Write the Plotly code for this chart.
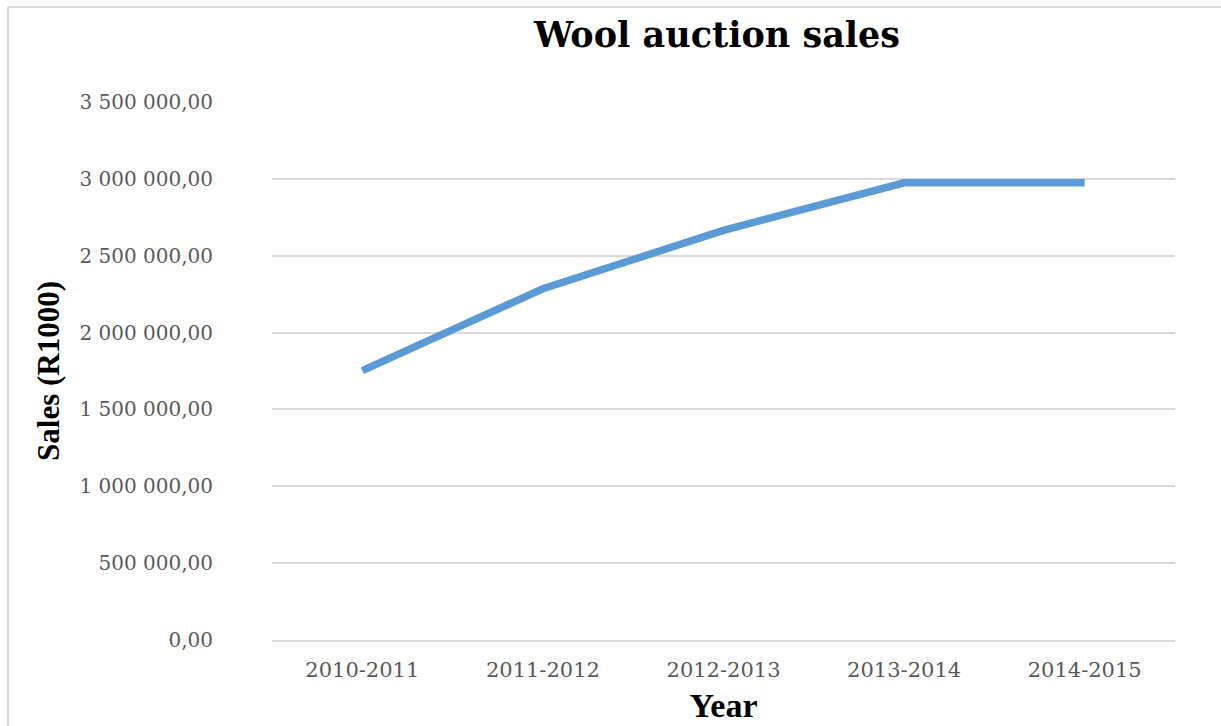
import plotly.graph_objects as go

# Wool auction sales per season (R1000)
seasons = ["2010-2011", "2011-2012", "2012-2013", "2013-2014", "2014-2015"]
sales = [1752000, 2285000, 2665000, 2974000, 2974000]

y_tick_values = [0, 500000, 1000000, 1500000, 2000000, 2500000, 3000000, 3500000]
y_tick_labels = ["0,00", "500 000,00", "1 000 000,00", "1 500 000,00",
                 "2 000 000,00", "2 500 000,00", "3 000 000,00", "3 500 000,00"]

GRID = "#d9d9d9"
TICK_COLOR = "#595959"
SERIF = "DejaVu Serif"
TITLE_SERIF = "Liberation Serif"

fig = go.Figure()
fig.add_trace(go.Scatter(
    x=seasons,
    y=sales,
    mode="lines",
    line=dict(color="#5b9bd5", width=7.5),
    hoverinfo="x+y",
    showlegend=False,
))

W, H = 1221, 726
L, R, T, B = 272, 46, 102, 86
pw = W - L - R
ph = H - T - B

fig.update_layout(
    width=W,
    height=H,
    margin=dict(l=L, r=R, t=T, b=B, autoexpand=False),
    paper_bgcolor="white",
    plot_bgcolor="white",
    title=dict(
        text="<b>Wool auction sales</b>",
        font=dict(family=SERIF, size=35, color="black"),
        x=(717 - L) / pw, xref="paper", xanchor="center",
        y=1 - 35 / H, yref="container", yanchor="middle",
    ),
    xaxis=dict(
        type="category",
        range=[-0.5, len(seasons) - 0.5],
        automargin=False,
        showgrid=False,
        showline=True,
        linecolor=GRID,
        linewidth=2,
        ticks="",
        tickfont=dict(family=SERIF, size=21, color=TICK_COLOR),
        ticklabelstandoff=10,
        title=dict(
            text="<b>Year</b>",
            font=dict(family=TITLE_SERIF, size=34, color="black"),
            standoff=12,
        ),
    ),
    yaxis=dict(
        range=[0, 3500000],
        automargin=False,
        tickvals=y_tick_values,
        ticktext=y_tick_labels,
        showgrid=True,
        gridcolor=GRID,
        gridwidth=2,
        zeroline=False,
        showline=False,
        ticks="",
        tickfont=dict(family=SERIF, size=20, color=TICK_COLOR),
        ticklabelstandoff=58,
        title=dict(
            text="<b>Sales (R1000)</b>",
            font=dict(family=TITLE_SERIF, size=31, color="black"),
            standoff=10,
        ),
    ),
)

# Light frame around the chart area (top and left edges visible)
fig.add_shape(
    type="rect", xref="paper", yref="paper",
    x0=(8 - L) / pw, x1=(W + 20 - L) / pw,
    y0=-(H + 20 - (H - B)) / ph, y1=((H - B) - 7) / ph,
    line=dict(color=GRID, width=2),
    fillcolor="rgba(0,0,0,0)",
    layer="below",
)

fig.write_html("out.html")
